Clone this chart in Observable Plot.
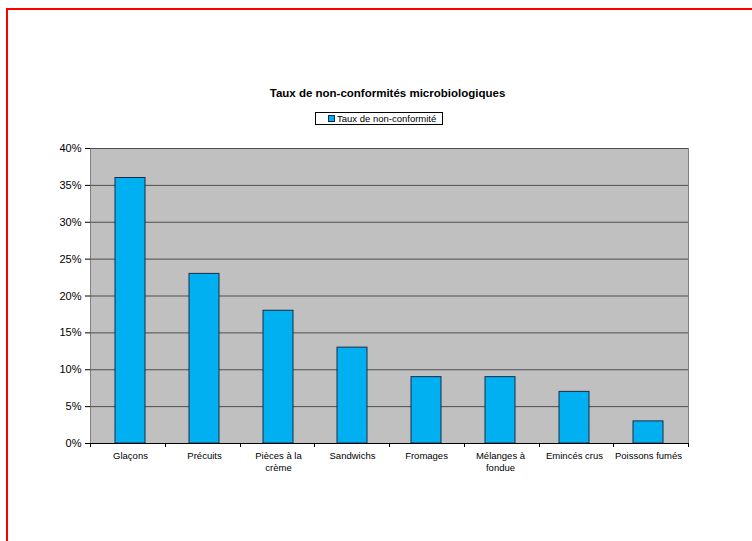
<!DOCTYPE html>
<html>
<head>
<meta charset="utf-8">
<script src="https://cdn.jsdelivr.net/npm/d3@7"></script>
<script src="https://cdn.jsdelivr.net/npm/@observablehq/plot@0.6"></script>
<style>
  html, body { margin: 0; padding: 0; background: #fff; }
  #wrap { position: relative; width: 752px; height: 541px; overflow: hidden; font-family: "Liberation Sans", Arial, sans-serif; }
  #chart { position: absolute; left: 0; top: 0; }
  #frame { position: absolute; left: 6px; top: 8px; width: 800px; height: 600px; border-top: 2px solid #ff0000; border-left: 2px solid #ff0000; box-sizing: border-box; }
  #title { position: absolute; left: 0; top: 86px; width: 775px; text-align: center; font-size: 11.5px; font-weight: bold; line-height: 14px; color: #000; }
  #legend { position: absolute; left: 315px; top: 112px; width: 128px; height: 13px; border: 1px solid #000; box-sizing: border-box; background: #fff; display: flex; align-items: center; font-size: 9.5px; color: #000; }
  #legend .sw { width: 5px; height: 5px; margin: 0 2px 0 12px; background: #00b0f0; border: 1px solid #1b2a48; }
</style>
</head>
<body>
<div id="wrap">
  <div id="chart"></div>
  <div id="title">Taux de non-conformités microbiologiques</div>
  <div id="legend"><span class="sw"></span><span>Taux de non-conformité</span></div>
  <div id="frame"></div>
</div>
<script>
// Product categories, their axis labels and non-conformity rates
const categories = ["Glaçons", "Précuits", "Pièces à la crème", "Sandwichs", "Fromages", "Mélanges à fondue", "Emincés crus", "Poissons fumés"];
const categoryLabels = ["Glaçons", "Précuits", "Pièces à la\ncrème", "Sandwichs", "Fromages", "Mélanges à\nfondue", "Emincés crus", "Poissons fumés"];
const rates = [0.36, 0.23, 0.18, 0.13, 0.09, 0.09, 0.07, 0.03];
const yTicks = [0, 0.05, 0.10, 0.15, 0.20, 0.25, 0.30, 0.35, 0.40];

const table = categories.map((c, i) => ({category: c, label: categoryLabels[i], rate: rates[i]}));

// Tick marks on the category axis, at the boundaries between bands
function categoryBoundaries(index, scales, values, dimensions) {
  const {width, height, marginLeft, marginRight, marginBottom} = dimensions;
  const n = categories.length;
  const step = (width - marginLeft - marginRight) / n;
  const y0 = height - marginBottom;
  const g = d3.create("svg:g").attr("stroke", "#000").attr("stroke-width", 1);
  for (let i = 0; i <= n; i++) {
    const x = Math.round(marginLeft + i * step) + 0.5;
    g.append("line").attr("x1", x).attr("x2", x).attr("y1", y0).attr("y2", y0 + 4);
  }
  return g.node();
}

const chart = Plot.plot({
  width: 752,
  height: 541,
  marginLeft: 90,
  marginRight: 64,
  marginTop: 148,
  marginBottom: 98,
  style: {fontFamily: "'Liberation Sans', Arial, sans-serif", fontSize: "11px", color: "#000", background: "transparent"},
  x: {domain: categories, paddingInner: 0.6, paddingOuter: 0.3, axis: null},
  y: {domain: [0, 0.4], ticks: yTicks, tickFormat: d => Math.round(d * 100) + "%", tickSize: 5, tickPadding: 4, line: true, label: null},
  marks: [
    Plot.frame({fill: "#c0c0c0", stroke: "#808080"}),
    Plot.ruleY(yTicks.filter(d => d > 0), {stroke: "#4d4d4d", strokeWidth: 1}),
    Plot.barY(table, {x: "category", y: "rate", fill: "#00b0f0", stroke: "#1b2a48", strokeWidth: 1}),
    Plot.ruleY([0], {stroke: "#000", strokeWidth: 1}),
    categoryBoundaries,
    Plot.text(table, {x: "category", text: "label", frameAnchor: "bottom", lineAnchor: "top", dy: 7, fontSize: 9.5, lineHeight: 1.25, fill: "#000"})
  ]
});

document.getElementById("chart").appendChild(chart);
</script>
</body>
</html>
